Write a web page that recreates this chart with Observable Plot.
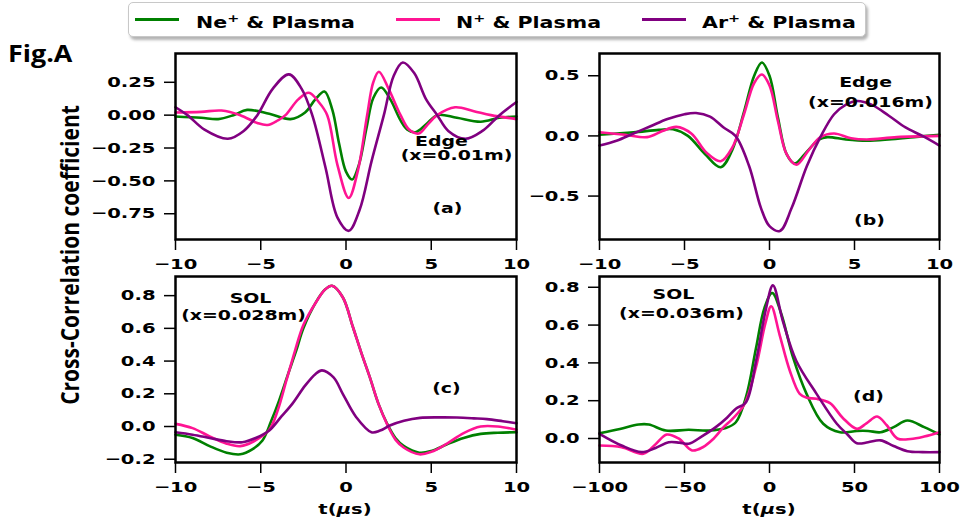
<!DOCTYPE html>
<html>
<head>
<meta charset="utf-8">
<script src="https://cdn.jsdelivr.net/npm/d3@7"></script>
<script src="https://cdn.jsdelivr.net/npm/@observablehq/plot@0.6"></script>
<style>
  html, body { margin: 0; padding: 0; background: white; }
  #root { position: relative; width: 961px; height: 526px; overflow: hidden; background: white; }
  .abs { position: absolute; }
  .dv { font-family: "DejaVu Sans"; font-weight: bold; color: black; white-space: nowrap; }
</style>
</head>
<body>
<div id="root"></div>
<script>
// ---------- DATA ----------
const seriesNames = ["Ne\u207A & Plasma", "N\u207A & Plasma", "Ar\u207A & Plasma"];
const seriesColors = ["green", "deeppink", "purple"];

// Panel (a) Edge x=0.01m : [t (µs), coefficient]
const aNe = [[-10,-0.01],[-8.5,-0.02],[-7.5,-0.03],[-6.6,0.0],[-5.8,0.04],[-4.5,0.01],[-3.25,-0.03],[-2.4,0.02],[-1.8,0.12],[-1.26,0.18],[-0.8,0.04],[-0.4,-0.22],[0.0,-0.43],[0.36,-0.49],[0.75,-0.38],[1.2,-0.1],[1.6,0.13],[2.06,0.21],[2.6,0.12],[3.2,-0.04],[3.6,-0.11],[4.07,-0.13],[4.7,-0.07],[5.35,0.0],[6.5,-0.02],[7.9,-0.05],[9,-0.02],[10,-0.01]];
const aN = [[-10,0.02],[-8.5,0.025],[-7.3,0.035],[-6.2,0.0],[-5.2,-0.06],[-4.6,-0.075],[-4.0,-0.04],[-3.55,0.0],[-2.8,0.12],[-2.18,0.17],[-1.6,0.1],[-1.1,0.0],[-0.5,-0.38],[0.16,-0.63],[0.7,-0.42],[1.24,0.0],[1.6,0.25],[1.93,0.33],[2.5,0.2],[3.2,0.0],[3.7,-0.11],[4.27,-0.14],[4.8,-0.07],[5.35,0.0],[6.4,0.06],[7.5,0.03],[8.5,0.0],[10,-0.03]];
const aAr = [[-10,0.06],[-9.3,0.0],[-8.3,-0.11],[-6.93,-0.18],[-6.0,-0.12],[-5.2,0.0],[-4.3,0.2],[-3.35,0.31],[-2.6,0.2],[-1.98,0.0],[-1.2,-0.4],[-0.5,-0.78],[0.16,-0.88],[0.8,-0.72],[1.5,-0.35],[2.22,0.0],[2.8,0.3],[3.33,0.40],[4.0,0.32],[4.7,0.12],[5.35,0.0],[6.0,-0.12],[7.0,-0.18],[8.0,-0.12],[9.0,0.0],[10,0.10]];

// Panel (b) Edge x=0.016m
const bNe = [[-10,0.01],[-8,0.03],[-6.5,0.05],[-5.67,0.055],[-4.8,0.0],[-3.8,-0.15],[-2.87,-0.26],[-2.2,-0.12],[-1.5,0.2],[-0.9,0.5],[-0.45,0.61],[0.0,0.5],[0.5,0.15],[1.0,-0.15],[1.48,-0.23],[2.2,-0.13],[2.9,-0.03],[3.41,-0.01],[4.5,-0.03],[5.73,-0.04],[7,-0.03],[8.5,-0.01],[10,0.01]];
const bN = [[-10,0.03],[-8.5,0.01],[-7.2,-0.01],[-6.3,0.04],[-5.48,0.075],[-4.6,0.02],[-3.7,-0.14],[-2.87,-0.21],[-2.2,-0.1],[-1.5,0.18],[-0.9,0.44],[-0.45,0.51],[0.0,0.42],[0.5,0.12],[1.0,-0.15],[1.58,-0.24],[2.3,-0.12],[3.0,-0.01],[3.8,0.02],[4.8,-0.02],[5.73,-0.03],[7.5,-0.01],[10,0.0]];
const bAr = [[-10,-0.08],[-9,-0.04],[-8,0.02],[-7,0.08],[-6,0.14],[-5,0.18],[-4.32,0.19],[-3.5,0.16],[-2.7,0.07],[-2.0,0.0],[-1.2,-0.25],[-0.5,-0.6],[0.0,-0.75],[0.61,-0.79],[1.3,-0.6],[2.2,-0.25],[3.03,0.0],[3.8,0.18],[4.5,0.26],[5.15,0.29],[6.0,0.26],[7.0,0.17],[8.0,0.07],[9.0,0.0],[10,-0.08]];

// Panel (c) SOL x=0.028m
const cNe = [[-10,-0.05],[-9,-0.07],[-8,-0.12],[-7,-0.16],[-6.2,-0.17],[-5.5,-0.14],[-4.9,-0.086],[-4.4,0.03],[-3.92,0.16],[-3.4,0.32],[-2.9,0.47],[-2.5,0.6],[-1.76,0.76],[-1.2,0.84],[-0.82,0.86],[-0.19,0.79],[0.4,0.61],[0.9,0.45],[1.4,0.30],[1.9,0.14],[2.4,0.02],[2.9,-0.07],[3.4,-0.12],[4.3,-0.16],[5.0,-0.15],[5.9,-0.11],[6.9,-0.07],[7.9,-0.045],[8.9,-0.038],[10,-0.035]];
const cN = [[-10,0.016],[-9,-0.01],[-8,-0.06],[-7,-0.105],[-6.2,-0.12],[-5.4,-0.09],[-4.5,-0.02],[-4.0,0.1],[-3.5,0.28],[-3.0,0.46],[-2.5,0.62],[-1.76,0.76],[-1.2,0.84],[-0.82,0.86],[-0.19,0.79],[0.4,0.61],[0.9,0.45],[1.4,0.30],[1.9,0.14],[2.4,0.016],[2.9,-0.08],[3.4,-0.13],[4.3,-0.17],[5.0,-0.155],[5.9,-0.106],[6.9,-0.04],[7.9,0.0],[8.9,0.0],[10,-0.02]];
const cAr = [[-10,-0.035],[-9,-0.05],[-8,-0.07],[-7,-0.09],[-6.08,-0.096],[-5.3,-0.07],[-4.5,-0.024],[-3.8,0.06],[-3.14,0.14],[-2.4,0.25],[-1.8,0.32],[-1.41,0.343],[-0.73,0.30],[-0.19,0.2],[0.6,0.057],[1.49,-0.035],[2.0,-0.025],[2.57,0.006],[3.4,0.035],[4.34,0.053],[5.5,0.056],[6.5,0.055],[7.5,0.05],[8.27,0.045],[9.2,0.032],[10,0.02]];

// Panel (d) SOL x=0.036m
const dNe = [[-100,0.028],[-88,0.05],[-77,0.074],[-71,0.074],[-61,0.042],[-47.5,0.046],[-35.6,0.042],[-25.7,0.055],[-19.8,0.086],[-13.8,0.22],[-7.9,0.48],[-3,0.69],[1.6,0.77],[6.9,0.66],[13.8,0.43],[21.8,0.236],[31.6,0.078],[41.5,0.033],[51.4,0.04],[58,0.04],[65.3,0.033],[73,0.06],[81.1,0.095],[91,0.06],[100,0.021]];
const dN = [[-100,-0.037],[-87,-0.046],[-74.2,-0.081],[-67,-0.03],[-60.4,0.021],[-53.5,0.0],[-45.5,-0.063],[-39,-0.045],[-33.6,-0.007],[-27,0.06],[-21.8,0.104],[-14.8,0.18],[-7.9,0.38],[-2.4,0.61],[1,0.70],[5.9,0.55],[11.9,0.36],[17.8,0.236],[22,0.215],[27.7,0.21],[35.6,0.187],[43,0.11],[51.4,0.051],[57,0.08],[63.3,0.116],[69,0.07],[75.2,0.0],[83,-0.003],[91,0.01],[100,0.033]];
const dAr = [[-100,0.025],[-87,-0.037],[-75.2,-0.072],[-67,-0.05],[-59.3,-0.02],[-53,-0.022],[-47.5,-0.028],[-40,0.01],[-31.6,0.06],[-25,0.11],[-19.8,0.157],[-13.8,0.192],[-7.9,0.41],[-2,0.69],[2,0.81],[7.9,0.62],[15.8,0.41],[27.7,0.236],[39.6,0.078],[46,0.02],[51.4,-0.025],[58,-0.02],[65.3,-0.01],[73,-0.04],[81.1,-0.067],[90,-0.072],[100,-0.072]];

// Tick values
const xTicksSmall = [-10, -5, 0, 5, 10];
const xTicksLarge = [-100, -50, 0, 50, 100];
const yTicksA = [0.25, 0.0, -0.25, -0.5, -0.75];
const yTicksB = [0.5, 0.0, -0.5];
const yTicksC = [0.8, 0.6, 0.4, 0.2, 0.0, -0.2];
const yTicksD = [0.8, 0.6, 0.4, 0.2, 0.0];

// Annotations: [t, value, text]
const annA = [[5.6,-0.198,"Edge"],[6.48,-0.31,"(x=0.01m)"],[5.95,-0.708,"(a)"]];
const annB = [[5.65,0.44,"Edge"],[5.94,0.28,"(x=0.016m)"],[5.88,-0.70,"(b)"]];
const annC = [[-5.6,0.78,"SOL"],[-6.01,0.68,"(x=0.028m)"],[5.89,0.23,"(c)"]];
const annD = [[-56.5,0.76,"SOL"],[-51.8,0.66,"(x=0.036m)"],[58.2,0.22,"(d)"]];

const xLabel = "t(\u03BCs)";
const yLabel = "Cross-Correlation coefficient";
const figLabel = "Fig.A";

// ---------- DRAW ----------
const root = document.getElementById("root");
const SX = 1.35; // horizontal stretch of the original raster

function stretchTexts(svg, k) {
  svg.querySelectorAll("text").forEach(t => {
    const w = t.getComputedTextLength();
    if (w > 0) {
      t.setAttribute("textLength", (w * k).toFixed(2));
      t.setAttribute("lengthAdjust", "spacingAndGlyphs");
    }
  });
}

function panel({sets, xDomain, yDomain, xTicks, yTicks, yFmt, ann, left, top, width, height, mL, mR, mT, mB}) {
  const rows = [];
  sets.forEach((s, i) => s.forEach(([t, v]) => rows.push({t, v, s: seriesNames[i]})));
  const annRows = ann.map(([t, v, text]) => ({t, v, text}));
  const svg = Plot.plot({
    width, height, marginLeft: mL, marginRight: mR, marginTop: mT, marginBottom: mB,
    style: {background: "transparent", overflow: "visible", fontFamily: "DejaVu Sans", fontSize: "14.5px", fontWeight: "bold", color: "black"},
    x: {domain: xDomain, label: null},
    y: {domain: yDomain, label: null},
    color: {domain: seriesNames, range: seriesColors},
    marks: [
      Plot.line(rows, {x: "t", y: "v", z: "s", stroke: "s", strokeWidth: 2.6, curve: "catmull-rom"}),
      Plot.text(annRows, {x: "t", y: "v", text: "text", fontSize: 14, fontWeight: "bold", fill: "black"}),
      Plot.frame({stroke: "black", strokeWidth: 2.5}),
      Plot.axisX({ticks: xTicks, tickFormat: d3.format("d"), tickSize: 11, tickPadding: 8, strokeWidth: 1.5, label: null}),
      Plot.axisY({ticks: yTicks, tickFormat: d3.format(yFmt), tickSize: 11, tickPadding: 9, strokeWidth: 1.5, label: null})
    ]
  });
  svg.classList.add("abs");
  svg.style.left = left + "px";
  svg.style.top = top + "px";
  root.appendChild(svg);
  stretchTexts(svg, SX);
}

// frames: a/b y 53..239 ; c/d y 276..462 ; a/c x 175..516 ; b/d x 599..939
panel({sets: [aNe, aN, aAr], xDomain: [-10, 10], yDomain: [-0.946, 0.469], xTicks: xTicksSmall, yTicks: yTicksA, yFmt: ".2f", ann: annA,
  left: 100, top: 40, width: 430, height: 240, mL: 75, mR: 14, mT: 13, mB: 41});
panel({sets: [bNe, bN, bAr], xDomain: [-10, 10], yDomain: [-0.861, 0.685], xTicks: xTicksSmall, yTicks: yTicksB, yFmt: ".1f", ann: annB,
  left: 520, top: 40, width: 430, height: 240, mL: 79, mR: 11, mT: 13, mB: 41});
panel({sets: [cNe, cN, cAr], xDomain: [-10, 10], yDomain: [-0.22, 0.917], xTicks: xTicksSmall, yTicks: yTicksC, yFmt: ".1f", ann: annC,
  left: 100, top: 266, width: 430, height: 240, mL: 75, mR: 14, mT: 10, mB: 44});
panel({sets: [dNe, dN, dAr], xDomain: [-100, 100], yDomain: [-0.127, 0.857], xTicks: xTicksLarge, yTicks: yTicksD, yFmt: ".1f", ann: annD,
  left: 520, top: 266, width: 430, height: 240, mL: 79, mR: 11, mT: 10, mB: 44});

// x labels
[345, 769].forEach(cx => {
  const d = document.createElement("div");
  d.className = "abs dv";
  d.innerHTML = "t(<i>\u03BC</i>s)";
  d.style.left = cx + "px";
  d.style.top = "501px";
  d.style.fontSize = "14.5px";
  d.style.transformOrigin = "0 0";
  d.style.transform = `scaleX(${SX}) translateX(-50%)`;
  root.appendChild(d);
});

// y label
const yl = document.createElement("div");
yl.className = "abs";
yl.textContent = yLabel;
yl.style.cssText = `left:70px; top:255px; font-family:'Open Sans'; font-weight:700; font-size:21px; white-space:nowrap; color:black; transform: translate(-50%,-50%) scaleX(1.15) rotate(-90deg);`;
root.appendChild(yl);

// Fig label
const fl = document.createElement("div");
fl.className = "abs";
fl.textContent = figLabel;
fl.style.cssText = `left:8px; top:36px; font-family:'Open Sans'; font-weight:700; font-size:24px; white-space:nowrap; color:black; transform-origin:0 0; transform: scaleX(1.12);`;
root.appendChild(fl);

// legend
const lg = document.createElement("div");
lg.className = "abs";
lg.style.cssText = "left:128px; top:2px; width:736px; height:33px; border:1.5px solid #c8c8c8; border-radius:5px; box-shadow:2px 3px 3px rgba(0,0,0,0.3); background:white;";
root.appendChild(lg);
const legendLineX = [135, 396, 642];
const legendTextX = [196, 456, 702];
seriesNames.forEach((name, i) => {
  const ln = document.createElement("div");
  ln.className = "abs";
  ln.style.cssText = `left:${legendLineX[i]}px; top:18px; width:44px; height:3px; background:${seriesColors[i]};`;
  root.appendChild(ln);
  const tx = document.createElement("div");
  tx.className = "abs dv";
  const parts = name.split("\u207A");
  tx.innerHTML = `${parts[0]}<sup style="font-size:0.7em">+</sup>${parts[1]}`;
  tx.style.cssText += `left:${legendTextX[i]}px; top:9px; font-size:15px; line-height:18px; transform-origin:0 0; transform:scaleX(1.37);`;
  root.appendChild(tx);
});
</script>
</body>
</html>
